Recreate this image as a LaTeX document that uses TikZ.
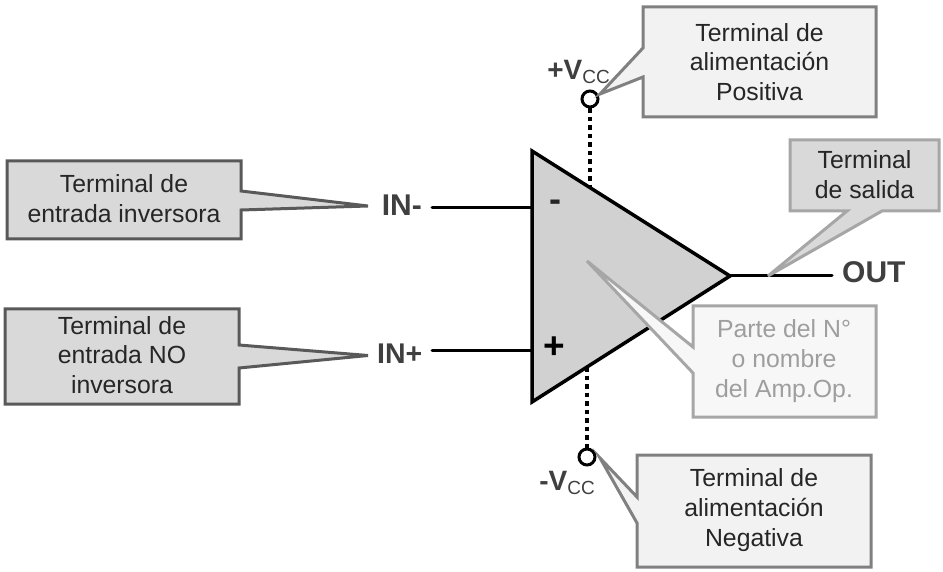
\documentclass[tikz,border=0pt]{standalone}
\usepackage{fontspec}
\setmainfont{Liberation Sans}
\definecolor{txt}{HTML}{262626}
\definecolor{lab}{HTML}{3F3F3F}
\tikzset{
  callout/.style={line width=3pt,line join=miter,miter limit=10},
  darkcall/.style={callout,draw=black!65,fill=black!15},
  midcall/.style={callout,draw=black!50,fill=black!5},
  lightcall/.style={callout,draw=black!35,fill=black!15},
  palecall/.style={callout,draw=black!35,fill=black!3},
  calltext/.style={align=center,text=txt,inner sep=0pt,font=\fontsize{24.8}{29.8}\selectfont},
  pinlabel/.style={text=lab,inner sep=0pt,font=\fontsize{30}{30}\selectfont\bfseries},
  wire/.style={line width=3pt,black},
  supply/.style={line width=3.5pt,black,dash pattern=on 4.5pt off 4pt},
  term/.style={circle,draw=black,line width=3pt,fill=white,minimum size=16pt,inner sep=0pt}
}
\begin{document}
\begin{tikzpicture}[x=1pt,y=-1pt]
\useasboundingbox (0,0) rectangle (943,572);
% triangle
\coordinate (tA) at (532,151);
\coordinate (tB) at (730,276);
\coordinate (tC) at (532,402);
\coordinate (pinM) at (532,208);
\coordinate (pinP) at (532,350);
\coordinate (pinV) at (590,187.5);
\coordinate (pinN) at (587,367);
\fill[black!18] (tA) -- (tB) -- (tC) -- cycle;
% terminals and labels
\node[term] (vp) at (590,99) {};
\node[term] (vn) at (587,457) {};
\node[pinlabel,anchor=east] (inm) at (422,205) {IN-};
\node[pinlabel,anchor=east,font=\fontsize{28.5}{30}\selectfont\bfseries] (inp) at (422.5,354) {IN+};
\node[pinlabel,anchor=west] (out) at (842,272) {OUT};
\node[pinlabel,anchor=center,font=\fontsize{28}{30}\selectfont\bfseries] (vpl) at (578.5,72) {+V\raisebox{-4pt}{\fontsize{19}{19}\selectfont\mdseries CC}};
\node[pinlabel,anchor=center,font=\fontsize{28}{30}\selectfont\bfseries] (vnl) at (567,483) {-V\raisebox{-4pt}{\fontsize{19}{19}\selectfont\mdseries CC}};
\coordinate (inmEnd) at (432,208);
\coordinate (inpEnd) at (432,350);
\coordinate (outEnd) at (832,276);
% wires
\draw[wire,line cap=round] (inmEnd) -- (pinM);
\draw[wire,line cap=round] (inpEnd) -- (pinP);
\draw[wire,line cap=round] (tB) -- (outEnd);
\draw[supply] (vp) -- (pinV);
\draw[supply] (pinN) -- (vn);
\draw[line width=3.5pt,black,line join=miter] (tA) -- (tB) -- (tC) -- cycle;
\node[inner sep=0pt,text=txt,font=\fontsize{36}{36}\selectfont\bfseries] (mn) at (555,206) {-};
\node[inner sep=0pt,text=black,font=\fontsize{37}{37}\selectfont\bfseries] (pl) at (554,348) {+};
% callouts
\draw[midcall] (643,7) -- (876,7) -- (876,117) -- (643,117) -- (643,77) -- (600,94) -- (643,48) -- cycle;
\node[calltext] (c1) at (759.5,62) {Terminal de\\alimentación\\Positiva};
\draw[lightcall] (790,140) -- (939,140) -- (939,211) -- (882,211) -- (768,276) -- (847,211) -- (790,211) -- cycle;
\node[calltext] (c2) at (864.5,175) {Terminal\\de salida};
\draw[palecall] (693,306) -- (876,306) -- (876,417) -- (693,417) -- (693,373) -- (587,261) -- (693,347) -- cycle;
\node[calltext,text=black!38] (c3) at (784,361) {Parte del N°\\o nombre\\del Amp.Op.};
\draw[midcall] (637,455) -- (871,455) -- (871,567) -- (637,567) -- (637,523) -- (600,458) -- (637,497) -- cycle;
\node[calltext] (c4) at (754,510) {Terminal de\\alimentación\\Negativa};
\draw[darkcall] (7,161) -- (241,161) -- (241,191) -- (368,206) -- (241,210) -- (241,239) -- (7,239) -- cycle;
\node[calltext] (c5) at (124,198.5) {Terminal de\\entrada inversora};
\draw[darkcall] (5,309) -- (239,309) -- (239,345) -- (368,355.5) -- (239,368) -- (239,404) -- (5,404) -- cycle;
\node[calltext] (c6) at (122,355) {Terminal de\\entrada NO\\inversora};
\end{tikzpicture}
\end{document}
